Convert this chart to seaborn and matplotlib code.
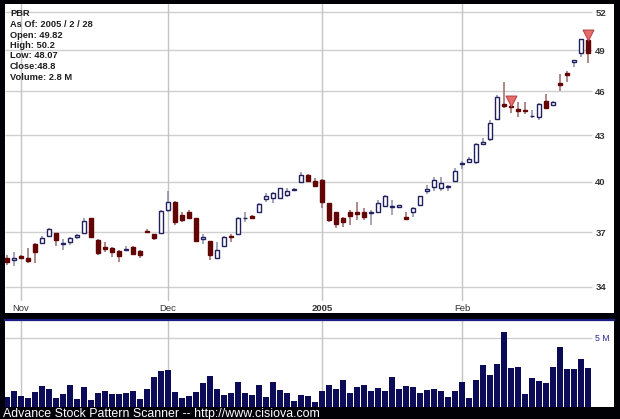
import numpy as np
import pandas as pd
import matplotlib
matplotlib.use("Agg")
import matplotlib.pyplot as plt
from matplotlib.ticker import NullLocator
import seaborn as sns

# ---------------- data ----------------
opens = [35.55, 35.45, 35.65, 35.55, 36.35, 36.4, 36.8, 36.95, 36.35, 36.45,
         36.75, 36.95, 37.8, 36.55, 36.15, 36.1, 35.95, 36.0, 36.15, 35.95,
         37.1, 36.9, 36.95, 38.3, 38.8, 38.0, 38.15, 37.8, 36.6, 36.5,
         35.55, 36.25, 36.8, 36.9, 37.8, 37.95, 38.18, 38.95, 39.0, 39.0,
         39.19, 39.5, 40.0, 40.42, 40.05, 40.1, 38.7, 38.17, 37.8, 38.17,
         38.17, 38.15, 38.1, 38.17, 38.53, 38.5, 38.47, 37.87, 38.17, 38.59,
         39.43, 39.67, 39.61, 39.7, 40.05, 41.1, 41.24, 41.24, 42.41, 42.74,
         44.08, 45.1, 44.97, 44.76, 44.7, 44.25, 44.22, 45.32, 45.04, 46.6,
         47.32, 48.1, 48.81, 49.82]
highs = [35.7, 35.9, 35.75, 36.1, 36.4, 36.8, 37.25, 36.95, 36.6, 36.75,
         36.9, 37.8, 37.8, 36.6, 36.45, 36.15, 36.0, 36.25, 36.2, 36.0,
         37.2, 36.9, 38.3, 39.45, 38.85, 38.2, 38.3, 37.85, 36.9, 36.5,
         36.45, 36.8, 36.9, 37.9, 38.15, 38.0, 38.7, 39.3, 39.37, 39.65,
         39.6, 39.6, 40.6, 40.5, 40.25, 40.15, 38.7, 38.2, 37.9, 38.3,
         38.75, 38.4, 38.3, 38.9, 39.2, 38.9, 38.62, 38.15, 38.45, 39.15,
         39.79, 40.3, 40.3, 39.8, 40.86, 41.3, 41.56, 42.45, 42.8, 44.01,
         45.74, 46.67, 45.35, 45.25, 45.25, 44.69, 45.15, 45.82, 45.3, 47.25,
         47.46, 48.3, 49.9, 50.2]
lows = [35.2, 35.1, 35.5, 35.3, 35.3, 36.35, 36.75, 36.2, 36.0, 36.3,
        36.6, 36.95, 36.65, 35.7, 35.9, 35.6, 35.35, 35.95, 35.7, 35.55,
        36.95, 36.55, 36.95, 38.2, 37.4, 37.6, 37.75, 36.45, 36.35, 35.45,
        35.5, 36.2, 36.45, 36.85, 37.6, 37.75, 38.1, 38.77, 38.7, 38.95,
        39.07, 39.45, 39.9, 40.0, 39.7, 38.4, 37.6, 37.25, 37.3, 37.4,
        37.7, 37.7, 37.4, 38.1, 38.45, 38.0, 38.42, 37.7, 37.87, 38.55,
        39.25, 39.43, 39.43, 39.43, 40.0, 40.8, 41.2, 41.12, 42.35, 42.6,
        44.0, 44.83, 44.5, 44.22, 44.4, 44.15, 44.0, 44.8, 44.95, 46.0,
        46.67, 47.8, 48.5, 48.07]
closes = [35.35, 35.55, 35.55, 35.4, 35.9, 36.65, 37.2, 36.55, 36.4, 36.7,
          36.85, 37.65, 36.75, 35.85, 36.05, 35.9, 35.65, 36.05, 35.8, 35.7,
          37.0, 36.7, 38.25, 38.75, 37.6, 37.7, 37.8, 36.5, 36.75, 35.7,
          36.0, 36.75, 36.75, 37.85, 37.85, 37.85, 38.65, 39.13, 39.31, 39.61,
          39.43, 39.55, 40.42, 40.05, 39.75, 38.77, 37.7, 37.48, 37.6, 37.93,
          38.05, 37.9, 38.2, 38.71, 39.13, 38.55, 38.59, 37.75, 38.41, 39.13,
          39.55, 40.11, 39.92, 39.75, 40.67, 41.15, 41.43, 42.4, 42.54, 43.8,
          45.6, 44.97, 44.9, 44.62, 44.65, 44.3, 45.1, 44.83, 45.25, 46.46,
          47.17, 48.25, 49.87, 48.8]
volumes_m = [0.75, 1.18, 0.8, 0.63, 1.09, 1.52, 1.3, 0.63, 0.94, 1.57,
             0.56, 1.43, 0.51, 1.04, 1.14, 0.94, 0.94, 1.04, 1.16, 0.56,
             1.28, 2.15, 2.61, 2.68, 1.09, 0.65, 0.8, 1.09, 1.74, 2.25,
             1.3, 0.87, 1.04, 1.84, 1.04, 0.87, 1.62, 0.75, 1.79, 1.23,
             1.04, 0.46, 0.87, 0.8, 0.36, 1.18, 1.57, 1.28, 1.93, 1.04,
             1.47, 1.57, 1.18, 1.38, 1.18, 2.15, 1.33, 1.52, 1.47, 1.04,
             1.23, 1.33, 1.18, 0.7, 1.14, 1.81, 0.63, 1.93, 3.04, 2.32,
             3.12, 5.43, 2.8, 2.9, 0.96, 2.08, 1.91, 1.74, 2.92, 4.32,
             2.75, 2.75, 3.5, 2.83]
signal_days = [72, 83]
month_pos = [2, 23, 45, 65]
month_labels = ["Nov", "Dec", "2005", "Feb"]
price_ticks = [34, 37, 40, 43, 46, 49, 52]
volume_ticks = [5]
volume_tick_labels = ["5 M"]
info_lines = ["PBR", "As Of: 2005 / 2 / 28", "Open: 49.82", "High: 50.2",
              "Low: 48.07", "Close:48.8", "Volume: 2.8 M"]
footer = "Advance Stock Pattern Scanner -- http://www.cisiova.com"

df = pd.DataFrame({"open": opens, "high": highs, "low": lows,
                   "close": closes, "volume": volumes_m})
df["idx"] = np.arange(len(df))

# ---------------- style ----------------
sns.set_theme(style="white")
plt.rcParams["font.family"] = ["Liberation Sans", "DejaVu Sans"]

W, H = 620, 419
fig = plt.figure(figsize=(W / 100, H / 100), dpi=100, facecolor="#000006")

def px_rect(x0, y0, x1, y1):
    return [x0 / W, 1 - y1 / H, (x1 - x0) / W, (y1 - y0) / H]

ax = fig.add_axes(px_rect(5, 4, 614, 313))
vax = fig.add_axes(px_rect(5, 320, 614, 407))

XL = (-0.29, 86.71)
up_edge = "#20205e"
up_wick = "#8c8ca8"
dn_face = "#640505"
dn_wick = "#9a6a6a"
grid_c = "#cfcfcf"
vgrid_c = "#c4c4c4"

# ---------------- price panel ----------------
ax.set_facecolor("white")
ax.set_yscale("log")
ax.set_xlim(*XL)
ax.set_ylim(32.66, 52.65)

up = df["close"] >= df["open"]
bottoms = np.minimum(df["open"], df["close"])
heights = np.maximum(np.abs(df["close"] - df["open"]), 0.02)

ax.hlines(price_ticks, 0, 0.964, transform=ax.get_yaxis_transform(),
          colors=grid_c, lw=1, zorder=1)
for m in month_pos:
    ax.axvline(m, ymin=13 / 309, ymax=1, color=vgrid_c, lw=1, zorder=1)

ax.vlines(df["idx"], df["low"], df["high"],
          colors=np.where(up, up_wick, dn_wick), lw=1.1, zorder=2)
ax.bar(df["idx"], heights, bottom=bottoms, width=0.66,
       color=np.where(up, "white", dn_face),
       edgecolor=np.where(up, up_edge, dn_face), linewidth=1.0, zorder=3)

sig = df.loc[signal_days]
ax.scatter(sig["idx"], sig["high"], marker="v", s=62, color="#e86a6a",
           edgecolor="#b04040", linewidth=0.7, zorder=5)

ax.set_yticks(price_ticks)
ax.set_yticklabels([str(t) for t in price_ticks])
ax.yaxis.set_minor_locator(NullLocator())
ax.tick_params(axis="y", which="both", left=False, right=False,
               labelleft=False, labelright=True, length=0, pad=-13.5,
               labelsize=6.8, labelcolor="#333333")
for lab in ax.get_yticklabels():
    lab.set_fontweight("bold")

ax.set_xticks(month_pos)
ax.set_xticklabels(month_labels)
ax.tick_params(axis="x", length=0, pad=-6.5, labelsize=6.8,
               labelcolor="#333333")
for lab in ax.get_xticklabels():
    if lab.get_text() == "2005":
        lab.set_fontweight("bold")
for s in ax.spines.values():
    s.set_visible(False)
ax.grid(False)

for k, line in enumerate(info_lines):
    fig.text(10 / W, 1 - (14 + k * 10.5) / H, line, fontsize=6.7,
             fontweight="bold", color="#1e1e1e", va="center", ha="left")

# ---------------- volume panel ----------------
vax.set_facecolor("white")
sns.barplot(data=df, x="idx", y="volume", native_scale=True, color="#0b0b58",
            saturation=1, width=0.76, errorbar=None, edgecolor="none",
            ax=vax, zorder=3)
vax.set_xlim(*XL)
vax.set_ylim(0, 6.3)
vax.hlines(volume_ticks, 0, 0.964, transform=vax.get_yaxis_transform(),
           colors=grid_c, lw=1, zorder=1)
for m in month_pos:
    vax.axvline(m, color=vgrid_c, lw=1, zorder=1)
vax.set_xticks([])
vax.set_xlabel("")
vax.set_ylabel("")
vax.set_yticks(volume_ticks)
vax.set_yticklabels(volume_tick_labels)
vax.tick_params(axis="y", left=False, right=False, labelleft=False,
                labelright=True, length=0, pad=-13.5, labelsize=6.3,
                labelcolor="#2a2a9a")
for name, s in vax.spines.items():
    if name == "top":
        s.set_color("#1c1c84")
        s.set_linewidth(1.6)
    else:
        s.set_visible(False)
vax.grid(False)

fig.text(3 / W, 1 - 413.5 / H, footer, color="white", fontsize=8.9,
         va="center", ha="left")

fig.savefig("out.png", dpi=100, facecolor=fig.get_facecolor())
